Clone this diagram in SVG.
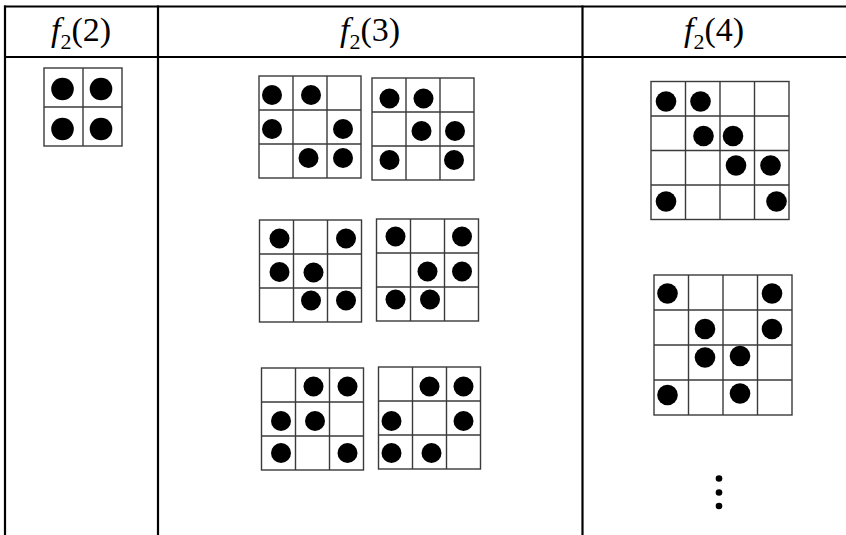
<svg xmlns="http://www.w3.org/2000/svg" width="846" height="535" viewBox="0 0 846 535">
<style>
.tl{stroke:#000;stroke-width:2.2;fill:none}
.g{stroke:#3a3a3a;stroke-width:1.4;fill:none}
.d{fill:#000}
.h{font-family:"Liberation Serif","Times New Roman",serif;font-size:34px;fill:#000}
.i{font-style:italic}
.s{font-size:22px}
</style>
<rect width="846" height="535" fill="#fff"/>
<g id="table">
<line class="tl" x1="4" y1="6.5" x2="846" y2="6.5"/>
<line class="tl" x1="4" y1="57" x2="846" y2="57"/>
<line class="tl" x1="5" y1="5.5" x2="5" y2="535"/>
<line class="tl" x1="158" y1="5.5" x2="158" y2="535"/>
<line class="tl" x1="582.5" y1="5.5" x2="582.5" y2="535"/>
</g>
<g id="headers">
<text class="h" x="81" y="41" text-anchor="middle"><tspan class="i">f</tspan><tspan class="s" dy="8">2</tspan><tspan dy="-8">(2)</tspan></text>
<text class="h" x="370" y="41" text-anchor="middle"><tspan class="i">f</tspan><tspan class="s" dy="8">2</tspan><tspan dy="-8">(3)</tspan></text>
<text class="h" x="714" y="41" text-anchor="middle"><tspan class="i">f</tspan><tspan class="s" dy="8">2</tspan><tspan dy="-8">(4)</tspan></text>
</g>
<g id="f2-2-grid">
<rect class="g" x="44" y="68" width="78" height="78"/>
<line class="g" x1="83" y1="68" x2="83" y2="146"/>
<line class="g" x1="44" y1="107" x2="122" y2="107"/>
<circle class="d" cx="62.5" cy="89" r="11.3"/>
<circle class="d" cx="101" cy="89" r="11.3"/>
<circle class="d" cx="62.5" cy="129" r="11.3"/>
<circle class="d" cx="101" cy="129" r="11.3"/>
</g>
<g id="f2-3-a">
<rect class="g" x="259" y="76" width="102" height="102"/>
<line class="g" x1="293" y1="76" x2="293" y2="178"/>
<line class="g" x1="327" y1="76" x2="327" y2="178"/>
<line class="g" x1="259" y1="110" x2="361" y2="110"/>
<line class="g" x1="259" y1="144" x2="361" y2="144"/>
<circle class="d" cx="272" cy="95" r="10"/>
<circle class="d" cx="311" cy="95" r="10"/>
<circle class="d" cx="272" cy="129" r="10"/>
<circle class="d" cx="343" cy="129" r="10"/>
<circle class="d" cx="308.5" cy="158" r="10"/>
<circle class="d" cx="343" cy="158" r="10"/>
</g>
<g id="f2-3-b">
<rect class="g" x="372" y="78" width="102" height="102"/>
<line class="g" x1="406" y1="78" x2="406" y2="180"/>
<line class="g" x1="440" y1="78" x2="440" y2="180"/>
<line class="g" x1="372" y1="112" x2="474" y2="112"/>
<line class="g" x1="372" y1="146" x2="474" y2="146"/>
<circle class="d" cx="389.5" cy="98.5" r="10"/>
<circle class="d" cx="423.5" cy="98.5" r="10"/>
<circle class="d" cx="421.5" cy="131" r="10"/>
<circle class="d" cx="455" cy="131" r="10"/>
<circle class="d" cx="389.5" cy="160" r="10"/>
<circle class="d" cx="454" cy="160" r="10"/>
</g>
<g id="f2-3-c">
<rect class="g" x="259.5" y="220" width="102" height="102"/>
<line class="g" x1="293.5" y1="220" x2="293.5" y2="322"/>
<line class="g" x1="327.5" y1="220" x2="327.5" y2="322"/>
<line class="g" x1="259.5" y1="254" x2="361.5" y2="254"/>
<line class="g" x1="259.5" y1="288" x2="361.5" y2="288"/>
<circle class="d" cx="279.5" cy="238.5" r="10"/>
<circle class="d" cx="346" cy="238.5" r="10"/>
<circle class="d" cx="279.5" cy="272" r="10"/>
<circle class="d" cx="313.5" cy="272.5" r="10"/>
<circle class="d" cx="311" cy="300.5" r="10"/>
<circle class="d" cx="346" cy="300.5" r="10"/>
</g>
<g id="f2-3-d">
<rect class="g" x="376.5" y="219" width="102" height="102"/>
<line class="g" x1="410.5" y1="219" x2="410.5" y2="321"/>
<line class="g" x1="444.5" y1="219" x2="444.5" y2="321"/>
<line class="g" x1="376.5" y1="253" x2="478.5" y2="253"/>
<line class="g" x1="376.5" y1="287" x2="478.5" y2="287"/>
<circle class="d" cx="395.5" cy="236.5" r="10"/>
<circle class="d" cx="462" cy="236.5" r="10"/>
<circle class="d" cx="427.5" cy="271.5" r="10"/>
<circle class="d" cx="462" cy="271.5" r="10"/>
<circle class="d" cx="395.5" cy="299.5" r="10"/>
<circle class="d" cx="430" cy="299.5" r="10"/>
</g>
<g id="f2-3-e">
<rect class="g" x="261.5" y="368" width="102" height="102"/>
<line class="g" x1="295.5" y1="368" x2="295.5" y2="470"/>
<line class="g" x1="329.5" y1="368" x2="329.5" y2="470"/>
<line class="g" x1="261.5" y1="402" x2="363.5" y2="402"/>
<line class="g" x1="261.5" y1="436" x2="363.5" y2="436"/>
<circle class="d" cx="313.5" cy="386.5" r="10"/>
<circle class="d" cx="347.5" cy="386.5" r="10"/>
<circle class="d" cx="281" cy="421" r="10"/>
<circle class="d" cx="315" cy="421" r="10"/>
<circle class="d" cx="281" cy="453" r="10"/>
<circle class="d" cx="347.5" cy="453" r="10"/>
</g>
<g id="f2-3-f">
<rect class="g" x="378.5" y="367" width="102" height="102"/>
<line class="g" x1="412.5" y1="367" x2="412.5" y2="469"/>
<line class="g" x1="446.5" y1="367" x2="446.5" y2="469"/>
<line class="g" x1="378.5" y1="401" x2="480.5" y2="401"/>
<line class="g" x1="378.5" y1="435" x2="480.5" y2="435"/>
<circle class="d" cx="429.5" cy="386.5" r="10"/>
<circle class="d" cx="463.5" cy="386.5" r="10"/>
<circle class="d" cx="391.5" cy="421" r="10"/>
<circle class="d" cx="463.5" cy="421" r="10"/>
<circle class="d" cx="391.5" cy="453" r="10"/>
<circle class="d" cx="431.5" cy="453" r="10"/>
</g>
<g id="f2-4-a">
<rect class="g" x="651" y="81.5" width="138" height="138"/>
<line class="g" x1="685.5" y1="81.5" x2="685.5" y2="219.5"/>
<line class="g" x1="720" y1="81.5" x2="720" y2="219.5"/>
<line class="g" x1="754.5" y1="81.5" x2="754.5" y2="219.5"/>
<line class="g" x1="651" y1="116" x2="789" y2="116"/>
<line class="g" x1="651" y1="150.5" x2="789" y2="150.5"/>
<line class="g" x1="651" y1="185" x2="789" y2="185"/>
<circle class="d" cx="666" cy="101.5" r="10.3"/>
<circle class="d" cx="700.5" cy="101.5" r="10.3"/>
<circle class="d" cx="703.5" cy="136" r="10.3"/>
<circle class="d" cx="733" cy="136" r="10.3"/>
<circle class="d" cx="736" cy="165.5" r="10.3"/>
<circle class="d" cx="770.5" cy="165.5" r="10.3"/>
<circle class="d" cx="666" cy="201.5" r="10.3"/>
<circle class="d" cx="776.5" cy="201.5" r="10.3"/>
</g>
<g id="f2-4-b">
<rect class="g" x="654" y="275" width="138" height="140"/>
<line class="g" x1="688.5" y1="275" x2="688.5" y2="415"/>
<line class="g" x1="723" y1="275" x2="723" y2="415"/>
<line class="g" x1="757.5" y1="275" x2="757.5" y2="415"/>
<line class="g" x1="654" y1="310" x2="792" y2="310"/>
<line class="g" x1="654" y1="345" x2="792" y2="345"/>
<line class="g" x1="654" y1="380" x2="792" y2="380"/>
<circle class="d" cx="667.5" cy="293.5" r="10.3"/>
<circle class="d" cx="772" cy="293.5" r="10.3"/>
<circle class="d" cx="705" cy="329" r="10.3"/>
<circle class="d" cx="772" cy="329" r="10.3"/>
<circle class="d" cx="705" cy="357.5" r="10.3"/>
<circle class="d" cx="740" cy="356" r="10.3"/>
<circle class="d" cx="667.5" cy="395" r="10.3"/>
<circle class="d" cx="740" cy="393.5" r="10.3"/>
</g>
<g id="ellipsis">
<circle class="d" cx="719" cy="478.5" r="3.3"/>
<circle class="d" cx="719" cy="492.5" r="3.3"/>
<circle class="d" cx="719" cy="506" r="3.3"/>
</g>
</svg>
